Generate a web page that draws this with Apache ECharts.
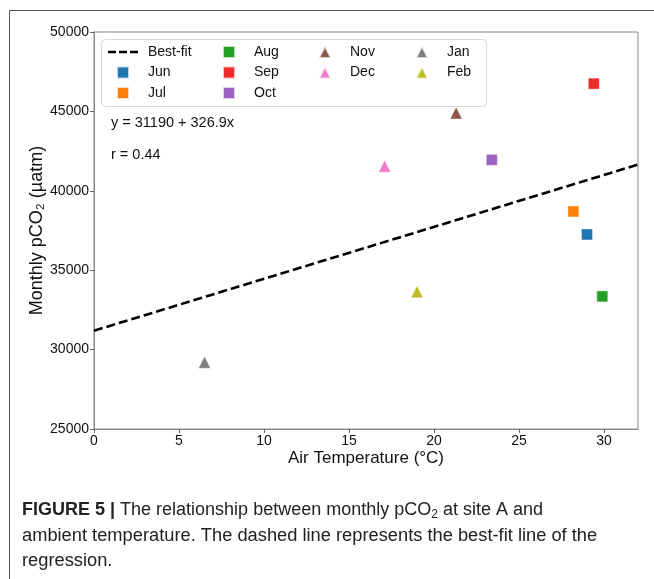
<!DOCTYPE html>
<html>
<head>
<meta charset="utf-8">
<script src="https://cdn.jsdelivr.net/npm/echarts@6/dist/echarts.min.js"></script>
<style>
  html, body { margin: 0; padding: 0; background: #fff; }
  #chart { width: 654px; height: 579px; }
</style>
</head>
<body>
<div id="chart"></div>
<script>
// monthly pCO2 at site A vs air temperature
const months = ['Jun', 'Jul', 'Aug', 'Sep', 'Oct', 'Nov', 'Dec', 'Jan', 'Feb']
const airTemp = [29.0, 28.2, 29.9, 29.4, 23.4, 21.3, 17.1, 6.5, 19.0]
const pco2 = [37250, 38700, 33350, 46750, 41950, 44900, 41550, 29200, 33650]

// best-fit line end points (y = 31190 + 326.9x)
const fitX = [0, 32]
const fitY = [31190, 41651]

const yTicks = [25000, 30000, 35000, 40000, 45000, 50000]
const xTicks = [0, 5, 10, 15, 20, 25, 30]

const monthStyle = {
  Jun: { color: '#1f77b4', shape: 'square' },
  Jul: { color: '#ff7f0e', shape: 'square' },
  Aug: { color: '#23a023', shape: 'square' },
  Sep: { color: '#ee2a2a', shape: 'square' },
  Oct: { color: '#9a62c4', shape: 'square' },
  Nov: { color: '#8c564b', shape: 'triangle' },
  Dec: { color: '#f07ac8', shape: 'triangle' },
  Jan: { color: '#7f7f7f', shape: 'triangle' },
  Feb: { color: '#bcbd22', shape: 'triangle' }
}

const FONT = 'Liberation Sans, Arial, sans-serif'
const squarePath = 'path://M0,0h10v10h-10z'
const trianglePath = 'path://M5,0L10,10L0,10z'
const dashPath = 'path://M0,0h8v2.6h-8z M11,0h8v2.6h-8z M22,0h8v2.6h-8z'

const chart = echarts.init(document.getElementById('chart'))

const scatterSeries = months.map((m, i) => ({
  name: m,
  type: 'scatter',
  data: [[airTemp[i], pco2[i]]],
  symbol: monthStyle[m].shape === 'square' ? 'rect' : 'triangle',
  symbolSize: monthStyle[m].shape === 'square' ? 11 : 12,
  itemStyle: { color: monthStyle[m].color, opacity: 1, borderColor: 'rgba(255,255,255,0.7)', borderWidth: 0.6 },
  z: 3
}))

function legendItem(m) {
  return { name: m, icon: monthStyle[m].shape === 'square' ? squarePath : trianglePath }
}

function makeLegend(items, left) {
  return {
    orient: 'vertical',
    left: left,
    top: 44,
    padding: 0,
    itemWidth: 30,
    itemHeight: 12,
    itemGap: 4.5,
    symbolKeepAspect: true,
    selectedMode: false,
    itemStyle: { opacity: 1 },
    textStyle: { fontFamily: FONT, fontSize: 14, color: '#111', lineHeight: 16, padding: [0, 0, 0, 5] },
    data: items
  }
}

const option = {
  animation: false,
  backgroundColor: '#fff',
  grid: { left: 94, right: 16, top: 32, bottom: 150, show: true, borderColor: '#888', borderWidth: 1 },
  xAxis: {
    type: 'value',
    min: 0,
    max: 32,
    interval: 5,
    name: 'Air Temperature (°C)',
    nameLocation: 'middle',
    nameGap: 21,
    nameMoveOverlap: false,
    nameTextStyle: { fontFamily: FONT, fontSize: 17, color: '#111', verticalAlign: 'top' },
    axisLine: { lineStyle: { color: '#888' } },
    axisTick: { length: 4, lineStyle: { color: '#666' } },
    axisLabel: {
      fontFamily: FONT, fontSize: 14, color: '#111', margin: 5, showMaxLabel: false,
      formatter: v => (xTicks.includes(v) ? String(v) : '')
    },
    splitLine: { show: false }
  },
  yAxis: {
    type: 'value',
    min: 25000,
    max: 50000,
    interval: 5000,
    name: 'Monthly pCO₂ (µatm)',
    nameLocation: 'middle',
    nameGap: 48,
    nameMoveOverlap: false,
    nameTextStyle: { fontFamily: FONT, fontSize: 18, color: '#111' },
    axisLine: { show: true, lineStyle: { color: '#888' } },
    axisTick: { show: true, length: 4, lineStyle: { color: '#666' } },
    axisLabel: {
      fontFamily: FONT, fontSize: 14, color: '#111', margin: 5,
      formatter: v => (yTicks.includes(v) ? String(v) : '')
    },
    splitLine: { show: false }
  },
  legend: [
    makeLegend([{ name: 'Best-fit', icon: dashPath }, legendItem('Jun'), legendItem('Jul')], 108),
    makeLegend([legendItem('Aug'), legendItem('Sep'), legendItem('Oct')], 222),
    makeLegend([legendItem('Nov'), legendItem('Dec')], 318),
    makeLegend([legendItem('Jan'), legendItem('Feb')], 415)
  ],
  graphic: [
    {
      type: 'rect', z: 0, silent: true,
      shape: { x: 9.5, y: 10.5, width: 700, height: 700 },
      style: { fill: 'none', stroke: '#555', lineWidth: 1 }
    },
    {
      type: 'rect', z: 3, silent: true,
      shape: { x: 101.5, y: 39.5, width: 385, height: 67, r: 4 },
      style: { fill: 'rgba(255,255,255,0.85)', stroke: '#d8d8d8', lineWidth: 1 }
    },
    {
      type: 'text', z: 5, silent: true, left: 111, top: 115,
      style: { text: 'y = 31190 + 326.9x', font: '14.5px ' + FONT, fill: '#111' }
    },
    {
      type: 'text', z: 5, silent: true, left: 111, top: 147,
      style: { text: 'r = 0.44', font: '14.5px ' + FONT, fill: '#111' }
    },
    {
      type: 'text', z: 5, silent: true, left: 22, top: 501,
      style: {
        text: '{b|FIGURE 5 |} The relationship between monthly pCO{s|2} at site A and',
        font: '18px ' + FONT, fill: '#222',
        rich: {
          b: { fontFamily: FONT, fontSize: 18, fontWeight: 'bold', fill: '#222', lineHeight: 22 },
          s: { fontFamily: FONT, fontSize: 12, fill: '#222', verticalAlign: 'bottom', lineHeight: 22 }
        }
      }
    },
    {
      type: 'text', z: 5, silent: true, left: 22, top: 527,
      style: { text: 'ambient temperature. The dashed line represents the best-fit line of the', font: '18.3px ' + FONT, fill: '#222' }
    },
    {
      type: 'text', z: 5, silent: true, left: 22, top: 552,
      style: { text: 'regression.', font: '18.3px ' + FONT, fill: '#222' }
    }
  ],
  series: [
    {
      name: 'Best-fit',
      type: 'line',
      data: fitX.map((x, i) => [x, fitY[i]]),
      showSymbol: false,
      symbol: 'none',
      itemStyle: { color: '#000' },
      lineStyle: { color: '#000', width: 2.6, type: [9, 4] },
      z: 2
    },
    ...scatterSeries
  ]
}

chart.setOption(option)
</script>
</body>
</html>
